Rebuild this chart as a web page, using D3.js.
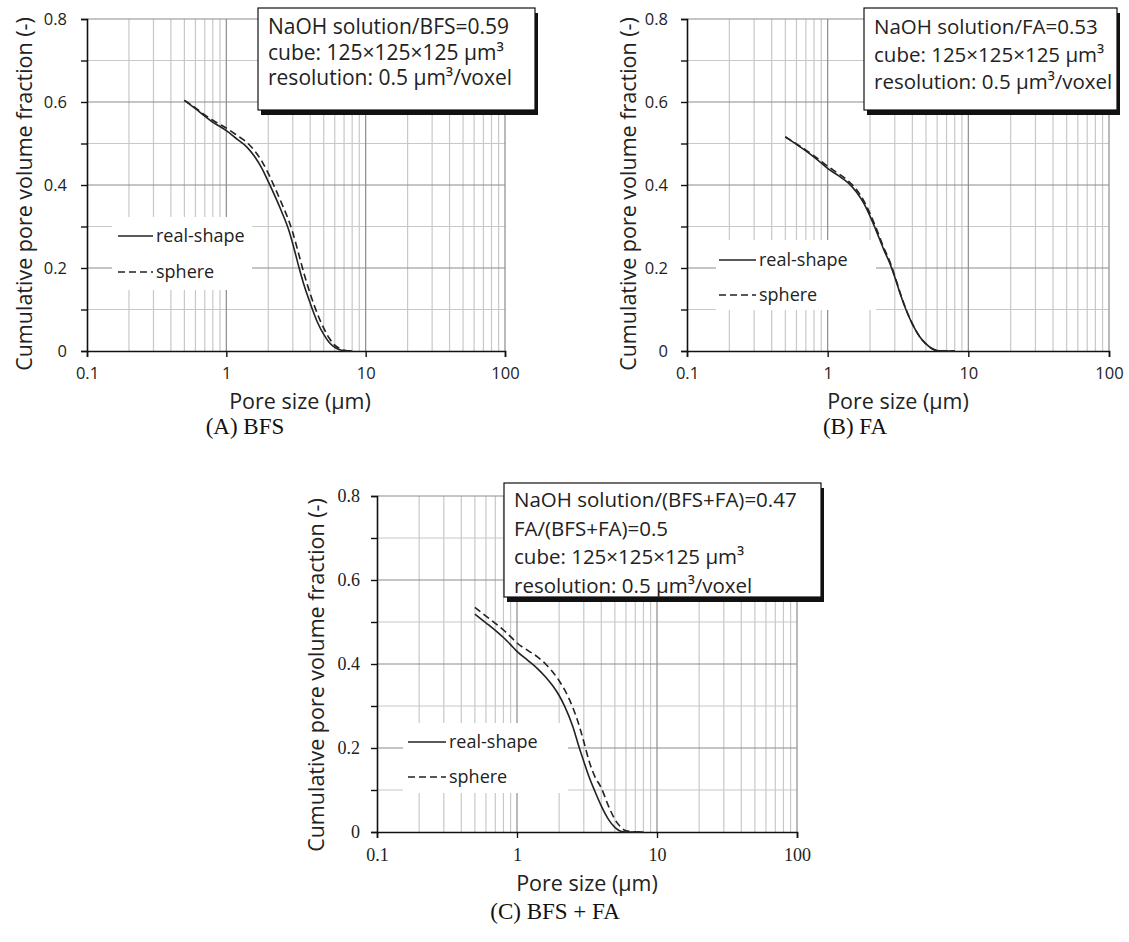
<!DOCTYPE html>
<html><head><meta charset="utf-8">
<script src="https://cdn.jsdelivr.net/npm/d3@7"></script>
<style>body{margin:0;background:#fff}svg{display:block}</style>
</head><body>
<svg id="chart" width="1129" height="942"></svg>
<script>
// ---------------- data ----------------
const poreSizes = [0.5,0.6,0.7,0.8,0.9,1,1.2,1.4,1.6,1.8,2,2.2,2.5,2.8,3,3.3,3.6,4,4.5,5,5.5,6,6.5,7,8];
const bfsReal   = [0.604,0.584,0.566,0.551,0.541,0.531,0.510,0.492,0.468,0.440,0.408,0.378,0.335,0.292,0.258,0.205,0.160,0.115,0.070,0.040,0.020,0.009,0.003,0.001,0.000];
const bfsSphere = [0.604,0.586,0.569,0.556,0.546,0.537,0.519,0.503,0.482,0.457,0.428,0.398,0.355,0.315,0.285,0.235,0.188,0.138,0.090,0.055,0.030,0.014,0.006,0.002,0.000];
const faReal    = [0.516,0.498,0.482,0.467,0.453,0.440,0.422,0.405,0.383,0.357,0.325,0.292,0.245,0.207,0.178,0.135,0.100,0.065,0.035,0.017,0.006,0.001,0.000,0.000,0.000];
const faSphere  = [0.516,0.499,0.484,0.470,0.457,0.445,0.427,0.410,0.389,0.363,0.331,0.298,0.250,0.211,0.181,0.137,0.101,0.066,0.035,0.017,0.006,0.001,0.000,0.000,0.000];
const mixReal   = [0.519,0.498,0.480,0.463,0.446,0.430,0.408,0.389,0.369,0.348,0.325,0.298,0.252,0.198,0.168,0.128,0.097,0.062,0.030,0.011,0.002,0.000,0.000,0.000,0.000];
const mixSphere = [0.535,0.514,0.497,0.481,0.465,0.450,0.432,0.417,0.400,0.381,0.360,0.337,0.297,0.250,0.215,0.165,0.132,0.105,0.062,0.030,0.012,0.003,0.001,0.000,0.000];

const xTicks = [0.1, 1, 10, 100];
const yTicks = [0, 0.2, 0.4, 0.6, 0.8];
const yMinor = [0.1, 0.3, 0.5, 0.7];
const legendLabels = ["real-shape", "sphere"];
const xTitle = "Pore size (\u00b5m)";
const yTitle = "Cumulative pore volume fraction (-)";
const boxA = ["NaOH solution/BFS=0.59", "cube: 125\u00d7125\u00d7125 \u00b5m\u00b3", "resolution: 0.5 \u00b5m\u00b3/voxel"];
const boxB = ["NaOH solution/FA=0.53", "cube: 125\u00d7125\u00d7125 \u00b5m\u00b3", "resolution: 0.5 \u00b5m\u00b3/voxel"];
const boxC = ["NaOH solution/(BFS+FA)=0.47", "FA/(BFS+FA)=0.5", "cube: 125\u00d7125\u00d7125 \u00b5m\u00b3", "resolution: 0.5 \u00b5m\u00b3/voxel"];
const captions = ["(A) BFS", "(B) FA", "(C) BFS + FA"];

// ---------------- drawing ----------------
const svg = d3.select("#chart");
const SANS = "'Open Sans', 'Noto Sans', sans-serif";
const SERIF = "'Liberation Serif', 'Times New Roman', serif";

function panel(cfg) {
  const g = svg.append("g");
  const x = d3.scaleLog().domain([0.1, 100]).range([cfg.x0, cfg.x1]);
  const y = d3.scaleLinear().domain([0, 0.8]).range([cfg.yb, cfg.yt]);

  const minorX = [];
  [0.1, 1, 10].forEach(d => { for (let k = 2; k <= 9; k++) minorX.push(d * k); });
  g.append("g").selectAll("line").data(minorX).join("line")
    .attr("x1", d => x(d)).attr("x2", d => x(d)).attr("y1", y(0)).attr("y2", y(0.8))
    .attr("stroke", "#c8c8c8").attr("stroke-width", 1.2);
  g.append("g").selectAll("line").data(yMinor).join("line")
    .attr("x1", x(0.1)).attr("x2", x(100)).attr("y1", d => y(d)).attr("y2", d => y(d))
    .attr("stroke", "#c8c8c8").attr("stroke-width", 1.2);
  g.append("g").selectAll("line").data([1, 10, 100]).join("line")
    .attr("x1", d => x(d)).attr("x2", d => x(d)).attr("y1", y(0)).attr("y2", y(0.8))
    .attr("stroke", "#8c8c8c").attr("stroke-width", 1.2);
  g.append("g").selectAll("line").data([0.2, 0.4, 0.6, 0.8]).join("line")
    .attr("x1", x(0.1)).attr("x2", x(100)).attr("y1", d => y(d)).attr("y2", d => y(d))
    .attr("stroke", "#8c8c8c").attr("stroke-width", 1.2);

  g.append("rect").attr("x", cfg.patch[0]).attr("y", cfg.patch[1])
    .attr("width", cfg.patch[2]).attr("height", cfg.patch[3]).attr("fill", "#fff");

  const xAxis = d3.axisBottom(x).tickValues(xTicks).tickSize(6).tickFormat(d3.format("~g"));
  const gx = g.append("g").attr("transform", `translate(0,${y(0)})`).call(xAxis);
  gx.select(".domain").attr("stroke", "#111").attr("stroke-width", 1.6);
  gx.selectAll(".tick line").attr("stroke", "#111").attr("stroke-width", 1.4);
  gx.selectAll("text").attr("font-family", cfg.tickFont).attr("font-size", cfg.tickSize)
    .attr("fill", "#222").attr("y", cfg.xTickY);

  const yAxis = d3.axisLeft(y).tickValues(yTicks.concat(yMinor)).tickSize(6)
    .tickFormat(d => yTicks.includes(d) ? d3.format("~g")(d) : "");
  const gy = g.append("g").attr("transform", `translate(${x(0.1)},0)`).call(yAxis);
  gy.select(".domain").attr("stroke", "#111").attr("stroke-width", 1.6);
  gy.selectAll(".tick line").attr("stroke", "#111").attr("stroke-width", 1.4);
  gy.selectAll("text").attr("font-family", cfg.tickFont).attr("font-size", cfg.tickSize)
    .attr("fill", "#222").attr("x", -cfg.yTickGap);

  const pts = vals => poreSizes.map((p, i) => [p, vals[i]]);
  const line = d3.line().x(d => x(d[0])).y(d => y(d[1])).curve(d3.curveMonotoneX);
  g.append("path").attr("d", line(pts(cfg.sphere))).attr("fill", "none")
    .attr("stroke", "#222").attr("stroke-width", 1.6).attr("stroke-dasharray", "7,4");
  g.append("path").attr("d", line(pts(cfg.real))).attr("fill", "none")
    .attr("stroke", "#222").attr("stroke-width", 1.6);

  const lg = g.append("g");
  legendLabels.forEach((lab, i) => {
    const ly = cfg.leg[1] + i * cfg.leg[3];
    lg.append("line").attr("x1", cfg.leg[0]).attr("x2", cfg.leg[0] + cfg.leg[2])
      .attr("y1", ly).attr("y2", ly).attr("stroke", "#222").attr("stroke-width", 1.5)
      .attr("stroke-dasharray", i === 1 ? "7,4" : null);
    lg.append("text").attr("x", cfg.leg[0] + cfg.leg[2] + 3).attr("y", ly)
      .attr("dy", "0.35em").attr("font-family", SANS).attr("font-size", cfg.legSize)
      .attr("fill", "#222").text(lab);
  });

  g.append("text").attr("x", cfg.xTitle[0]).attr("y", cfg.xTitle[1]).attr("text-anchor", "middle")
    .attr("font-family", SANS).attr("font-size", cfg.titleSize).attr("fill", "#222").text(xTitle);
  g.append("text").attr("transform", `translate(${cfg.yTitle[0]},${cfg.yTitle[1]}) rotate(-90)`)
    .attr("text-anchor", "middle").attr("font-family", SANS).attr("font-size", cfg.titleSize)
    .attr("fill", "#222").text(yTitle);

  const b = cfg.box;
  g.append("rect").attr("x", b[0] + 3).attr("y", b[1] + 5).attr("width", b[2]).attr("height", b[3]).attr("fill", "#111");
  g.append("rect").attr("x", b[0]).attr("y", b[1]).attr("width", b[2]).attr("height", b[3])
    .attr("fill", "#fff").attr("stroke", "#111").attr("stroke-width", 1.2);
  cfg.boxLines.forEach((t, i) => {
    g.append("text").attr("x", b[0] + 10).attr("y", cfg.boxBase + i * cfg.boxStep)
      .attr("font-family", SANS).attr("font-size", cfg.boxSize).attr("fill", "#222").text(t);
  });

  g.append("text").attr("x", cfg.cap[0]).attr("y", cfg.cap[1]).attr("text-anchor", "middle")
    .attr("font-family", SERIF).attr("font-size", 23).attr("fill", "#111").text(cfg.caption);
}

panel({x0: 87, x1: 505, yt: 19, yb: 351, real: bfsReal, sphere: bfsSphere,
  tickFont: SANS, tickSize: 16.5, xTickY: 16, yTickGap: 20,
  patch: [112, 217, 140, 73], leg: [118, 236, 35, 36], legSize: 18,
  xTitle: [300, 409], yTitle: [32, 194], titleSize: 21.5,
  box: [258, 8, 277, 102], boxLines: boxA, boxBase: 34, boxStep: 25.5, boxSize: 21,
  cap: [245, 434], caption: captions[0]});

panel({x0: 687, x1: 1109, yt: 19, yb: 351, real: faReal, sphere: faSphere,
  tickFont: SANS, tickSize: 16.5, xTickY: 16, yTickGap: 19,
  patch: [716, 240, 160, 70], leg: [719, 260, 37, 35], legSize: 18,
  xTitle: [898, 409], yTitle: [636, 194], titleSize: 21.5,
  box: [864, 8, 253, 102], boxLines: boxB, boxBase: 34, boxStep: 27.5, boxSize: 20.5,
  cap: [855, 434], caption: captions[1]});

panel({x0: 377, x1: 797, yt: 496, yb: 832, real: mixReal, sphere: mixSphere,
  tickFont: SERIF, tickSize: 18, xTickY: 16, yTickGap: 17,
  patch: [403, 723, 165, 70], leg: [408, 742, 38, 35], legSize: 18,
  xTitle: [587, 891], yTitle: [324, 675], titleSize: 21.5,
  box: [504, 483, 317, 114], boxLines: boxC, boxBase: 507, boxStep: 28.7, boxSize: 20.5,
  cap: [555, 919], caption: captions[2]});
</script>
</body></html>
